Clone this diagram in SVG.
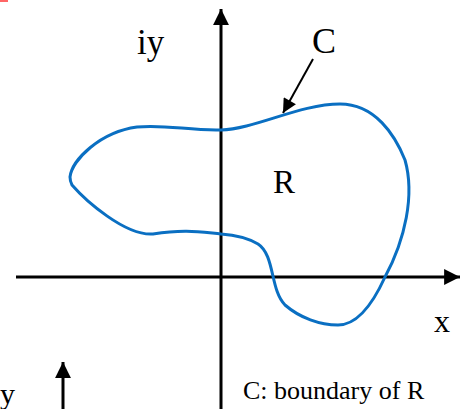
<svg xmlns="http://www.w3.org/2000/svg" width="470" height="409" viewBox="0 0 470 409">
<defs>
<style>
.ax{stroke:#000;stroke-width:3;fill:none}
.lbl{font-family:"Liberation Serif","Times New Roman",serif;fill:#000}
.curve{stroke:#0a6fc2;stroke-width:3;fill:none}
</style>
<marker id="ah" viewBox="0 0 10 10" refX="10" refY="5" markerWidth="9" markerHeight="5.3" orient="auto" markerUnits="strokeWidth">
<path d="M0,0 L10,5 L0,10 z" fill="#000"/>
</marker>
<marker id="ah2" viewBox="0 0 10 10" refX="10" refY="5" markerWidth="9" markerHeight="7" orient="auto" markerUnits="strokeWidth">
<path d="M0,0 L10,5 L0,10 z" fill="#000"/>
</marker>
</defs>
<rect x="0" y="0" width="8" height="2" fill="#ff6666"/>
<g id="connectors">
<line class="ax" x1="16" y1="277" x2="460" y2="277" marker-end="url(#ah)"/>
<line class="ax" x1="221" y1="409" x2="221" y2="9" marker-end="url(#ah)"/>
<line class="ax" x1="63" y1="409" x2="63" y2="362" marker-end="url(#ah)"/>
<line stroke="#000" stroke-width="2" x1="313" y1="59" x2="283" y2="113" marker-end="url(#ah2)"/>
</g>
<g id="region">
<path class="curve" d="M70,177 C72,160 100,132 137,127 C165,124 190,131 221,130 C255,129 300,104 340,104 C375,104 395,135 405,160 C415,195 405,240 385,277 C370,310 355,325 338,325 C320,325 300,318 285,305 C270,290 275,255 258,244 C248,238 235,235 221,234 C200,232 185,229 153,234 C125,236 85,200 72,185 C70,181 70,179 70,177 Z"/>
</g>
<g id="labels">
<text class="lbl" x="137" y="54" font-size="35">iy</text>
<text class="lbl" x="312" y="53" font-size="36">C</text>
<text class="lbl" x="273" y="193" font-size="33">R</text>
<text class="lbl" x="434" y="332" font-size="32">x</text>
<text class="lbl" x="0" y="404" font-size="30">y</text>
<text class="lbl" x="243" y="399" font-size="26">C: boundary of R</text>
</g>
</svg>
